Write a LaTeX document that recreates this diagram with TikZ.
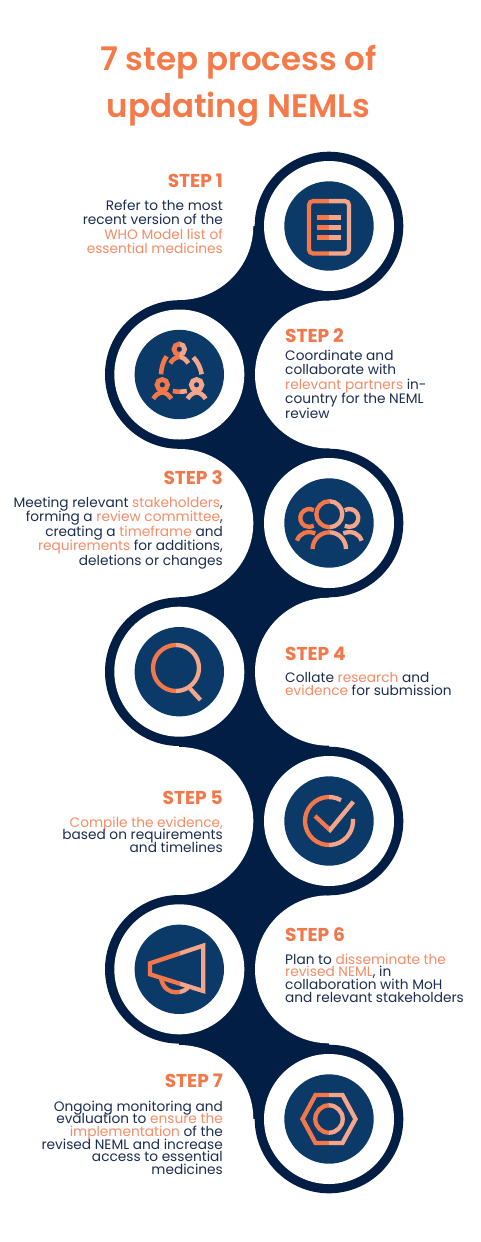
\documentclass[tikz,border=0pt]{standalone}
\usepackage{fontspec}
\setmainfont{Poppins}
\newfontfamily\headf{Poppins}[BoldFont={Poppins SemiBold}]
\newfontfamily\stepf{Poppins}
\definecolor{navyb}{HTML}{021E45}
\definecolor{innerb}{HTML}{0B3A68}
\definecolor{oA}{HTML}{F4774A}
\definecolor{oB}{HTML}{F5A68A}
\definecolor{ttl}{HTML}{F47A4A}
\definecolor{txtn}{HTML}{1D2D50}
\definecolor{txto}{HTML}{F58C66}
\newcommand{\hl}[1]{\textcolor{txto}{#1}}
\newcommand{\twotone}[2]{%
  \begin{scope}\clip (-70,-70) rectangle (#1,70);\colorlet{iconcol}{oA}#2\end{scope}%
  \begin{scope}\clip (#1,-70) rectangle (70,70);\colorlet{iconcol}{oB}#2\end{scope}}
\tikzset{
  x=1pt,y=-1pt,
  ic/.style={draw=iconcol,line width=4.3pt,line cap=butt,line join=miter},
  iconscope/.style={shift={(#1)},y=1pt},
  title/.style={font=\headf\bfseries\fontsize{32.5}{47.6}\selectfont,text=ttl,inner sep=0pt,align=center},
  stephead/.style={font=\stepf\bfseries\fontsize{18.6}{22}\selectfont,text=oA,inner sep=0pt},
  bodyr/.style={font=\fontsize{13.7}{#1}\selectfont,text=txtn,inner sep=0pt,align=right,anchor=north east},
  bodyl/.style={font=\fontsize{13.7}{#1}\selectfont,text=txtn,inner sep=0pt,align=left,anchor=north west},
}
\newcommand{\person}[2]{% head centre x,y (y up)
  \draw[ic,line width=4.8pt] (#1,#2) circle[radius=5.3pt];
  \draw[ic,line width=4.6pt] (#1-9,#2-14) .. controls (#1-7,#2-10.5) and (#1-4,#2-8) .. (#1,#2-7.5) .. controls (#1+4,#2-8) and (#1+7,#2-10.5) .. (#1+9,#2-14);
}
\begin{document}
\lineskiplimit=-100pt\relax
\begin{tikzpicture}
\useasboundingbox (0,0) rectangle (480,1242);
\fill[white] (0,0) rectangle (480,1242);
% ribbon
\fill[navyb] (179.3,226) rectangle (329,1119);
\foreach \p in {(179.3,226),(329,374.5),(179.3,523),(329,671.7),(179.3,821),(329,969.3),(179.3,1119)}
  \fill[white] \p circle[radius=74pt];
\foreach \p in {(329,226),(179.3,374.5),(329,523),(179.3,671.7),(329,821),(179.3,969.3),(329,1119)}{
  \fill[navyb] \p circle[radius=74.3pt];
  \fill[white] \p circle[radius=65pt];
  \fill[innerb] \p circle[radius=44.7pt];
}
% icon 1 document
\begin{scope}[iconscope={329,227.3}]
\twotone{0}{
  \draw[ic,rounded corners=4pt] (-20,-26.2) rectangle (20,26.2);
  \draw[ic,line width=4.6pt] (-12,10) -- (12,10);
  \draw[ic,line width=4.6pt] (-12,0) -- (12,0);
  \draw[ic,line width=4.6pt] (-12,-10) -- (12,-10);
}
\end{scope}
% icon 2 network
\begin{scope}[iconscope={179.3,374.3}]
\twotone{0}{
  \person{0}{25}
  \person{-17}{-10.5}
  \person{17.3}{-10.5}
  \draw[ic,line width=4.6pt] (-12.7,18) .. controls (-16.5,12.5) and (-18,6) .. (-18.3,0);
  \draw[ic,line width=4.6pt] (14,17) .. controls (18.5,12.5) and (21.5,6) .. (22.3,0);
  \draw[ic,line width=4.6pt] (-6.5,-16.7) .. controls (-3,-17.6) and (3,-17.6) .. (7.5,-16.7);
}
\end{scope}
% icon 3 people
\begin{scope}[iconscope={329.3,523.7}]
\twotone{0}{
  \draw[ic] (0,9.5) circle[radius=13pt];
  \draw[ic] (-16.7,-25.3) arc[start angle=180,end angle=0,radius=16.7pt];
  \draw[ic] (-15.5,13.5) arc[start angle=60,end angle=300,radius=9pt];
  \draw[ic] (15.5,13.5) arc[start angle=120,end angle=-120,radius=9pt];
  \draw[ic] (-32.3,-17) .. controls (-30,-9.5) and (-22,-6.5) .. (-14,-9.7);
  \draw[ic] (32.3,-17) .. controls (30,-9.5) and (22,-6.5) .. (14,-9.7);
}
\end{scope}
% icon 4 magnifier
\begin{scope}[iconscope={176,668}]
\twotone{0}{
  \draw[ic] (0,0) circle[radius=23pt];
  \draw[ic] (14,-20.5) -- (24.5,-32);
}
\end{scope}
% icon 5 check
\begin{scope}[iconscope={329,821}]
\twotone{0}{
  \draw[ic] (12,20.8) arc[start angle=60,end angle=365,radius=24pt];
  \draw[ic] (-14,5) -- (1,-9) -- (24.3,19.3);
}
\end{scope}
% icon 6 megaphone
\begin{scope}[iconscope={179.3,969.3}]
\twotone{0}{
  \draw[ic] (-29.3,6) -- (24,23.7) -- (24,-21.7) -- (-29.3,-5) -- cycle;
  \draw[ic] (-18.3,-9) .. controls (-16,-20) and (-9,-23) .. (-3,-23) .. controls (3,-23) and (8,-20) .. (9,-17.3);
}
\end{scope}
% icon 7 hexagon
\begin{scope}[iconscope={329,1119}]
\twotone{0}{
  \draw[ic] (-26.5,0) -- (-13.5,24) -- (13.5,24) -- (26.5,0) -- (13.5,-24) -- (-13.5,-24) -- cycle;
  \draw[ic] (0,0) circle[radius=13.7pt];
}
\end{scope}
% title
\node[title,anchor=north] (t) at (238.5,44.5) {7 step process of\\updating NEMLs};
% step 1
\node[stephead,anchor=base east] (h1) at (223,187) {STEP 1};
\node[bodyr=14.5] (b1) at (223,199.4) {Refer to the most\\recent version of the\\\hl{WHO Model list of}\\\hl{essential medicines}\hspace{3pt}};
% step 2
\node[stephead,anchor=base west] (h2) at (285,342) {STEP 2};
\node[bodyl=14.5] (b2) at (285,349.7) {Coordinate and\\collaborate with\\\hl{relevant partners} in-\\country for the NEML\\review};
% step 3
\node[stephead,anchor=base east] (h3) at (223,484) {STEP 3};
\node[bodyr=14.5] (b3) at (223,496.7) {Meeting relevant \hl{stakeholders},\\forming a \hl{review committee},\\creating a \hl{timeframe} and\\\hl{requirements} for additions,\\deletions or changes};
% step 4
\node[stephead,anchor=base west] (h4) at (285,660) {STEP 4};
\node[bodyl=13] (b4) at (285,672.4) {Collate \hl{research} and\\\hl{evidence} for submission};
% step 5
\node[stephead,anchor=base east] (h5) at (223,804.3) {STEP 5};
\node[bodyr=12.8] (b5) at (223,816.4) {\hl{Compile the evidence,}\\based on requirements\\and timelines};
% step 6
\node[stephead,anchor=base west] (h6) at (285,941) {STEP 6};
\node[bodyl=12.6] (b6) at (285,953.7) {Plan to \hl{disseminate the}\\\hl{revised NEML}, in\\collaboration with MoH\\and relevant stakeholders};
% step 7
\node[stephead,anchor=base east] (h7) at (223,1087.7) {STEP 7};
\node[bodyr=12.7] (b7) at (223,1100.4) {Ongoing monitoring and\\evaluation to \hl{ensure the}\\\hl{implementation} of the\\revised NEML and increase\\access to essential\\medicines};
\end{tikzpicture}
\end{document}
